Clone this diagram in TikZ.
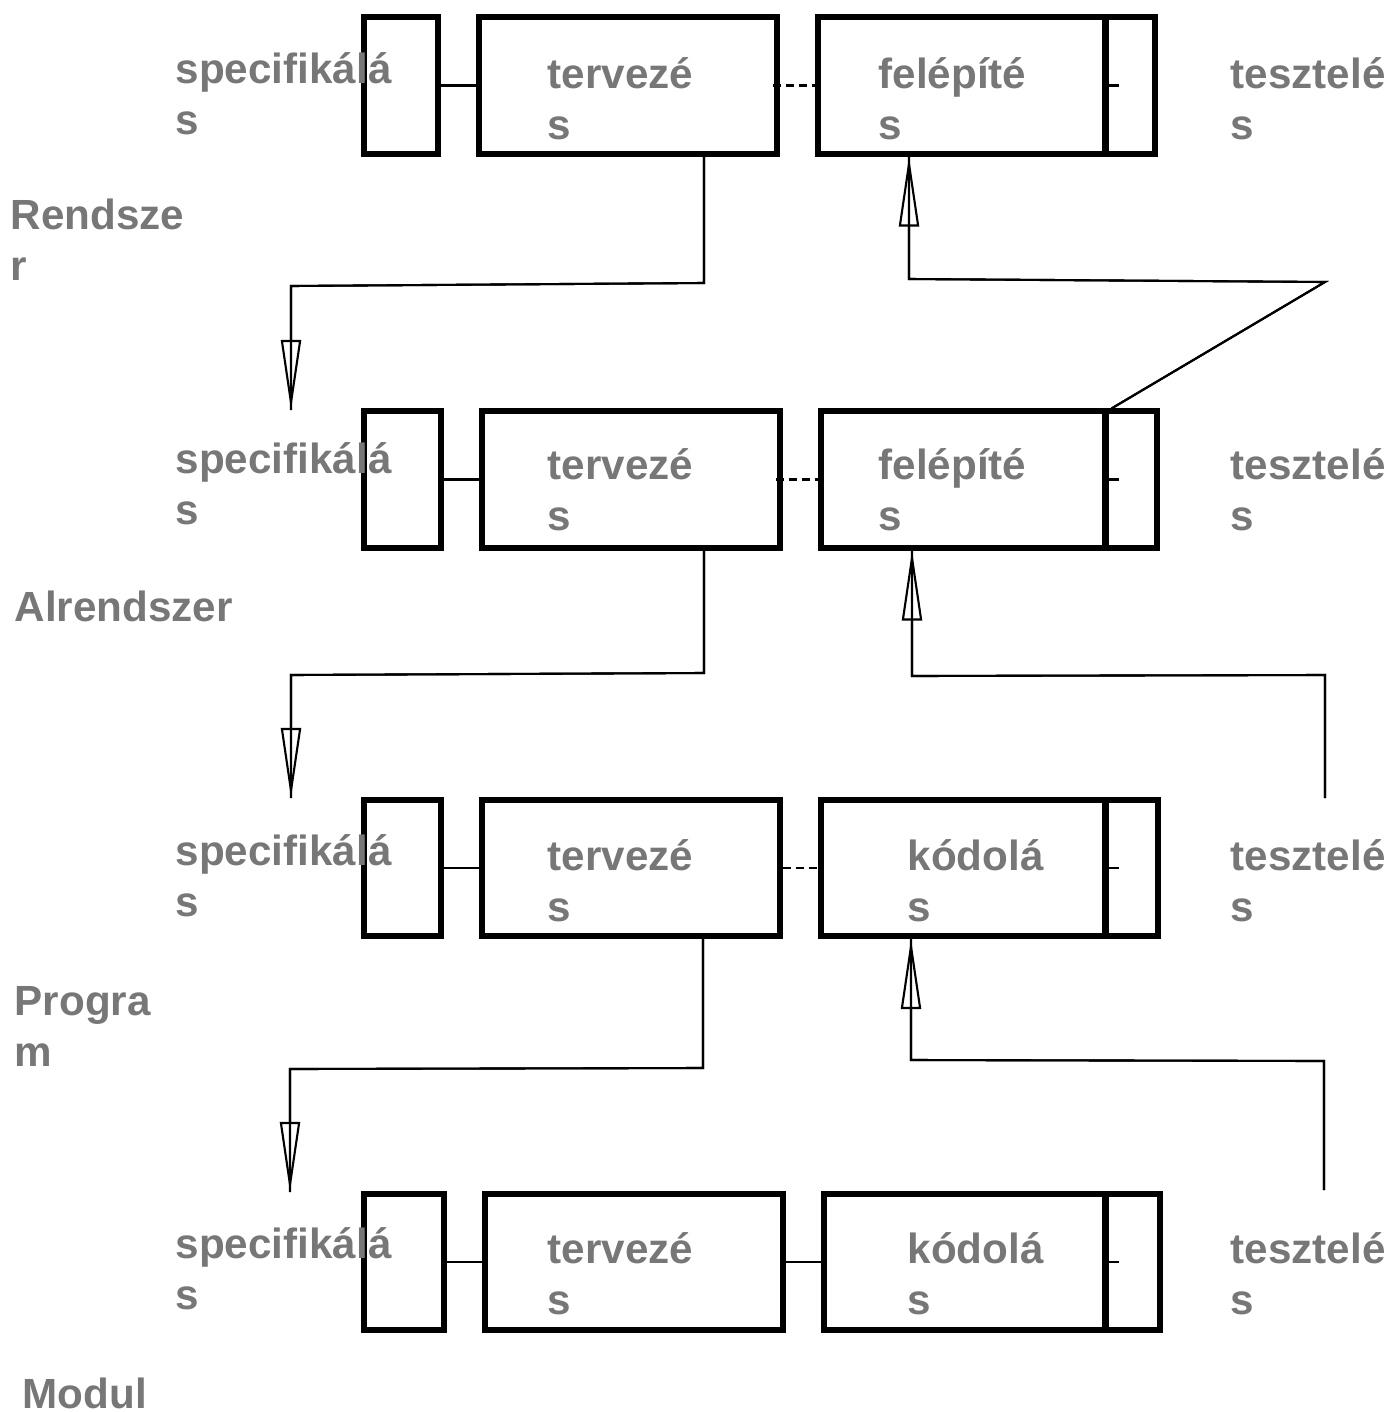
\documentclass[tikz,border=0pt]{standalone}
\usepackage{fontspec}
\setmainfont{Liberation Sans}
\usetikzlibrary{arrows.meta}
\definecolor{labelgray}{RGB}{119,119,119}

\begin{document}
\begin{tikzpicture}[x=0.01cm, y=-0.01cm,
    box/.style={draw, line width=1.7pt, inner sep=0pt, minimum height=1.36cm},
    lbl/.style={anchor=base west, align=left, inner sep=0pt, text=labelgray,
        font=\fontsize{12}{14.5}\selectfont\bfseries},
    link/.style={line width=0.6pt},
    flow/.style={line width=0.6pt,
        postaction={draw, -{Triangle[open, length=0.7cm, width=0.2cm]}}}]
    \useasboundingbox (0,0) rectangle (1390,1412);

    % Rendszer
    \node[box, minimum width=0.73cm] (s1) at (401,85.5) {};
    \node[box, minimum width=2.97cm] (t1) at (628,85.5) {};
    \node[box, minimum width=2.87cm] (f1) at (962,85.5) {};
    \node[box, minimum width=0.50cm] (r1) at (1129.5,85.5) {};
    \node[lbl] (ls1) at (175,134) {specifikálá\\s};
    \node[lbl] (lt1) at (547,139) {tervezé\\s};
    \node[lbl] (lf1) at (878,139) {felépíté\\s};
    \node[lbl] (lr1) at (1230,139) {tesztelé\\s};
    \node[lbl] (lev1) at (10,280) {Rendsze\\r};
    \draw[link] (s1.east) -- (t1.west);
    \draw[link, dash pattern=on 0.08cm off 0.05cm] ([xshift=-0.07cm]t1.east) -- (f1.west);
    \draw[link] (f1.east) -- ++(10,0);

    % Alrendszer
    \node[box, minimum width=0.76cm] (s2) at (402.5,479.5) {};
    \node[box, minimum width=2.97cm] (t2) at (631,479.5) {};
    \node[box, minimum width=2.84cm] (f2) at (963.5,479.5) {};
    \node[box, minimum width=0.52cm] (r2) at (1130.5,479.5) {};
    \node[lbl] (ls2) at (175,524) {specifikálá\\s};
    \node[lbl] (lt2) at (547,530) {tervezé\\s};
    \node[lbl] (lf2) at (878,530) {felépíté\\s};
    \node[lbl] (lr2) at (1230,530) {tesztelé\\s};
    \node[lbl] (lev2) at (14,621) {Alrendszer};
    \draw[link] (s2.east) -- (t2.west);
    \draw[link, dash pattern=on 0.08cm off 0.05cm] ([xshift=-0.07cm]t2.east) -- (f2.west);
    \draw[link] (f2.east) -- ++(10,0);

    % Program
    \node[box, minimum width=0.76cm] (s3) at (402.5,868) {};
    \node[box, minimum width=2.97cm] (t3) at (631,868) {};
    \node[box, minimum width=2.84cm] (k3) at (963.5,868) {};
    \node[box, minimum width=0.53cm] (r3) at (1131,868) {};
    \node[lbl] (ls3) at (175,916) {specifikálá\\s};
    \node[lbl] (lt3) at (547,921) {tervezé\\s};
    \node[lbl] (lk3) at (907,921) {kódolá\\s};
    \node[lbl] (lr3) at (1230,921) {tesztelé\\s};
    \node[lbl] (lev3) at (14,1066) {Progra\\m};
    \draw[link] (s3.east) -- (t3.west);
    \draw[link, dash pattern=on 0.08cm off 0.05cm] (t3.east) -- (k3.west);
    \draw[link] (k3.east) -- ++(10,0);

    % Modul
    \node[box, minimum width=0.79cm] (s4) at (404,1262) {};
    \node[box, minimum width=2.97cm] (t4) at (634,1262) {};
    \node[box, minimum width=2.81cm] (k4) at (965,1262) {};
    \node[box, minimum width=0.55cm] (r4) at (1132,1262) {};
    \node[lbl] (ls4) at (175,1309) {specifikálá\\s};
    \node[lbl] (lt4) at (547,1314) {tervezé\\s};
    \node[lbl] (lk4) at (907,1314) {kódolá\\s};
    \node[lbl] (lr4) at (1230,1314) {tesztelé\\s};
    \node[lbl] (lev4) at (22,1408) {Modul};
    \draw[link] (s4.east) -- (t4.west);
    \draw[link] (t4.east) -- (k4.west);
    \draw[link] (k4.east) -- ++(10,0);

    % lefele: tervezes -> specifikalas
    \coordinate (in2) at (291,410);
    \coordinate (in3) at (291,798);
    \coordinate (in4) at (290,1192);
    \draw[flow] (t1.south -| 704,0) -- (704,283) -- (291,286) -- (in2);
    \draw[flow] (t2.south -| 704,0) -- (704,673) -- (291,675) -- (in3);
    \draw[flow] (t3.south -| 703,0) -- (703,1068) -- (290,1069) -- (in4);

    % felfele: teszteles -> felepites
    \coordinate (out3) at (1325,798);
    \coordinate (out4) at (1324,1190);
    \draw[flow] ([xshift=0.1cm]r2.north west) -- (1325,282) -- (909,279) -- (f1.south -| 909,0);
    \draw[flow] (out3) -- (1325,675) -- (912,676) -- (f2.south -| 912,0);
    \draw[flow] (out4) -- (1324,1061) -- (911,1060) -- (k3.south -| 911,0);
\end{tikzpicture}
\end{document}
